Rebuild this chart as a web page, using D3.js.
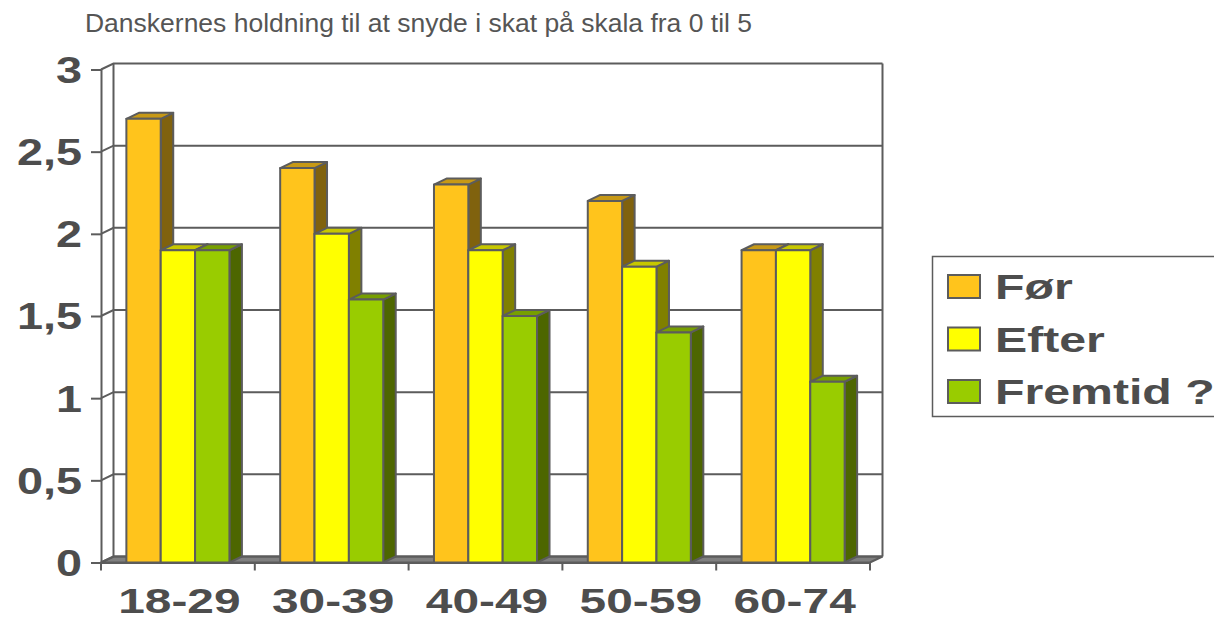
<!DOCTYPE html>
<html>
<head>
<meta charset="utf-8">
<script src="https://cdnjs.cloudflare.com/ajax/libs/d3/7.8.5/d3.min.js"></script>
<style>
    html, body { margin: 0; padding: 0; background: #fff; overflow: hidden; }
    text { font-family: "Liberation Sans", Arial, sans-serif; fill: #4d4d4d; }
</style>
</head>
<body>
<div id="chart"></div>
<script>
// Data
const title = "Danskernes holdning til at snyde i skat på skala fra 0 til 5";
const ageGroups = ["18-29", "30-39", "40-49", "50-59", "60-74"];
const seriesNames = ["Før", "Efter", "Fremtid ?"];
const forValues = [2.7, 2.4, 2.3, 2.2, 1.9];
const efterValues = [1.9, 2.0, 1.9, 1.8, 1.9];
const fremtidValues = [1.9, 1.6, 1.5, 1.4, 1.1];
const yTicks = [0, 0.5, 1, 1.5, 2, 2.5, 3];

const allValues = [forValues, efterValues, fremtidValues];

// Set dimensions
const width = 1214;
const height = 617;
const plot = { left: 101, right: 870, top: 69.5, bottom: 562.5 };
const depth = { x: 12.5, y: 6 };
const lineColor = "#5c5c5c";
const lineWidth = 2;
// the labels in the original are stretched sideways
const stretchY = 1.3;
const stretchX = 1.33;
const stretchLegend = 1.34;

const color = d3.scaleOrdinal()
    .domain(seriesNames)
    .range(["#ffc41c", "#ffff00", "#99cc00"]);

const shade = (c, k) => {
    const r = d3.rgb(c);
    return d3.rgb(r.r * k, r.g * k, r.b * k).formatHex();
};

// Scales
const y = d3.scaleLinear().domain([0, 3]).range([plot.bottom, plot.top]);
const x0 = d3.scaleBand().domain(ageGroups).range([plot.left, plot.right]).paddingInner(0.33).paddingOuter(0.165);
const x1 = d3.scaleBand().domain(seriesNames).range([0, x0.bandwidth()]);

const svg = d3.select("#chart")
    .append("svg")
    .attr("width", width)
    .attr("height", height)
    .style("display", "block");

// Title
svg.append("text")
    .attr("x", 85 / 1.06)
    .attr("y", 32.5)
    .attr("transform", "scale(1.06,1)")
    .attr("font-size", 25)
    .style("fill", "#555")
    .text(title);

// Floor
svg.append("polygon")
    .attr("points", [
        [plot.left, plot.bottom],
        [plot.left + depth.x, plot.bottom - depth.y],
        [plot.right + depth.x, plot.bottom - depth.y],
        [plot.right, plot.bottom]
    ].join(" "))
    .attr("fill", "#808080")
    .attr("stroke", lineColor)
    .attr("stroke-width", lineWidth);

// Back wall and gridlines
svg.append("g")
    .selectAll("path")
    .data(yTicks)
    .enter()
    .append("path")
    .attr("d", d => `M${plot.left},${y(d)}L${plot.left + depth.x},${y(d) - depth.y}H${plot.right + depth.x}`)
    .attr("fill", "none")
    .attr("stroke", lineColor)
    .attr("stroke-width", lineWidth);

svg.append("path")
    .attr("d", `M${plot.left + depth.x},${y(3) - depth.y}V${y(0) - depth.y}M${plot.right + depth.x},${y(3) - depth.y}V${y(0) - depth.y}`)
    .attr("fill", "none")
    .attr("stroke", lineColor)
    .attr("stroke-width", lineWidth);

// Bars
const groups = svg.append("g")
    .selectAll("g")
    .data(ageGroups)
    .enter()
    .append("g")
    .attr("transform", d => `translate(${x0(d)},0)`);

const bars = groups.selectAll("g")
    .data((d, i) => seriesNames.map((s, j) => ({ name: s, value: allValues[j][i] })))
    .enter()
    .append("g")
    .attr("stroke", lineColor)
    .attr("stroke-width", lineWidth)
    .attr("stroke-linejoin", "round");

// side face
bars.append("polygon")
    .attr("points", d => {
        const r = x1(d.name) + x1.bandwidth();
        return [[r, y(d.value)], [r + depth.x, y(d.value) - depth.y], [r + depth.x, y(0) - depth.y], [r, y(0)]].join(" ");
    })
    .attr("fill", d => shade(color(d.name), 0.5));

// top face
bars.append("polygon")
    .attr("points", d => {
        const l = x1(d.name);
        const r = l + x1.bandwidth();
        return [[l, y(d.value)], [l + depth.x, y(d.value) - depth.y], [r + depth.x, y(d.value) - depth.y], [r, y(d.value)]].join(" ");
    })
    .attr("fill", d => shade(color(d.name), 0.78));

// front face
bars.append("rect")
    .attr("x", d => x1(d.name))
    .attr("y", d => y(d.value))
    .attr("width", x1.bandwidth())
    .attr("height", d => y(0) - y(d.value))
    .attr("fill", d => color(d.name));

// Y axis
const yAxis = svg.append("g")
    .attr("transform", `translate(${plot.left},0)`)
    .call(d3.axisLeft(y)
        .tickValues(yTicks)
        .tickSize(10)
        .tickSizeOuter(0)
        .tickFormat(d => String(d).replace(".", ",")));

yAxis.selectAll("path, line").attr("stroke", lineColor).attr("stroke-width", lineWidth);
yAxis.selectAll("text")
    .attr("x", -19 / stretchY)
    .attr("dy", "0.36em")
    .attr("transform", `scale(${stretchY},1)`)
    .attr("font-size", 36)
    .attr("font-weight", "bold")
    .attr("font-family", "Liberation Sans")
    .style("fill", "#4d4d4d");

// X axis
const xAxis = svg.append("g")
    .attr("transform", `translate(0,${plot.bottom})`)
    .call(d3.axisBottom(x0).tickSize(0).tickSizeOuter(0));

xAxis.select("path").attr("stroke", lineColor).attr("stroke-width", lineWidth);
xAxis.selectAll("text")
    .attr("x", 1.5 / stretchX)
    .attr("y", 0)
    .attr("dy", 51)
    .attr("transform", `scale(${stretchX},1)`)
    .attr("font-size", 36)
    .attr("font-weight", "bold")
    .attr("font-family", "Liberation Sans")
    .style("fill", "#4d4d4d");

// tick marks sit between the groups
xAxis.append("g")
    .selectAll("line")
    .data(d3.range(ageGroups.length + 1))
    .enter()
    .append("line")
    .attr("x1", i => plot.left + i * x0.step())
    .attr("x2", i => plot.left + i * x0.step())
    .attr("y1", 0)
    .attr("y2", 8)
    .attr("stroke", lineColor)
    .attr("stroke-width", lineWidth);

// Legend
svg.append("rect")
    .attr("x", 932.5)
    .attr("y", 256.5)
    .attr("width", 300)
    .attr("height", 160)
    .attr("fill", "#fff")
    .attr("stroke", lineColor)
    .attr("stroke-width", 1.5);

const legendY = d3.scalePoint().domain(seriesNames).range([286, 391]);

const legendItems = svg.append("g")
    .selectAll("g")
    .data(seriesNames)
    .enter()
    .append("g")
    .attr("transform", d => `translate(948,${legendY(d)})`);

legendItems.append("rect")
    .attr("y", -11)
    .attr("width", 32)
    .attr("height", 23)
    .attr("fill", d => color(d))
    .attr("stroke", lineColor)
    .attr("stroke-width", lineWidth);

legendItems.append("text")
    .attr("x", 47 / stretchLegend)
    .attr("y", 13)
    .attr("transform", `scale(${stretchLegend},1)`)
    .attr("font-size", 36)
    .attr("font-weight", "bold")
    .text(d => d);
</script>
</body>
</html>
